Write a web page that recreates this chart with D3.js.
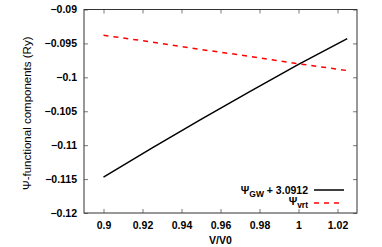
<!DOCTYPE html>
<html>
<head>
<meta charset="utf-8">
<script src="https://cdn.jsdelivr.net/npm/d3@7"></script>
<style>
  body { margin: 0; background: #fff; }
  text { font-family: "Liberation Sans", Arial, sans-serif; }
</style>
</head>
<body>
<div id="chart"></div>
<script>
const volume = [0.9, 0.925, 0.95, 0.975, 1.0, 1.025];
const psiGW = [-0.1147, -0.1104, -0.1062, -0.1021, -0.0981, -0.0943];
const psiVrt = [-0.0938, -0.0948, -0.0959, -0.0969, -0.0980, -0.0990];
const xTicks = [0.9, 0.92, 0.94, 0.96, 0.98, 1, 1.02];
const yTicks = [-0.12, -0.115, -0.11, -0.105, -0.1, -0.095, -0.09];

const width = 382;
const height = 247;
const plotLeft = 84, plotRight = 357, plotTop = 9.5, plotBottom = 213;

const svg = d3.select('#chart')
  .append('svg')
  .attr('width', width)
  .attr('height', height);

const x = d3.scaleLinear().domain([0.89, 1.03]).range([plotLeft, plotRight]);
const y = d3.scaleLinear().domain([-0.12, -0.09]).range([plotBottom, plotTop]);

// axes, ticks pointing inward
const tickLen = 4;
svg.append('g')
  .attr('transform', `translate(0,${plotBottom})`)
  .call(d3.axisBottom(x).tickValues(xTicks).tickSize(-tickLen).tickPadding(9).tickFormat(d3.format('')))
  .call(g => g.select('.domain').remove());
svg.append('g')
  .attr('transform', `translate(0,${plotTop})`)
  .call(d3.axisTop(x).tickValues(xTicks).tickSize(-tickLen).tickFormat(''))
  .call(g => g.select('.domain').remove());
svg.append('g')
  .attr('transform', `translate(${plotLeft},0)`)
  .call(d3.axisLeft(y).tickValues(yTicks).tickSize(-tickLen).tickPadding(7).tickFormat(d3.format('')))
  .call(g => g.select('.domain').remove());
svg.append('g')
  .attr('transform', `translate(${plotRight},0)`)
  .call(d3.axisRight(y).tickValues(yTicks).tickSize(-tickLen).tickFormat(''))
  .call(g => g.select('.domain').remove());

svg.selectAll('.tick line').attr('stroke', '#555').attr('stroke-width', 0.8);
svg.selectAll('.tick text')
  .attr('font-size', 10.5)
  .attr('font-weight', 'bold')
  .attr('fill', '#000');

svg.append('rect')
  .attr('x', plotLeft).attr('y', plotTop)
  .attr('width', plotRight - plotLeft).attr('height', plotBottom - plotTop)
  .attr('fill', 'none').attr('stroke', '#333').attr('stroke-width', 1);

// lines
const line = d3.line().x((d, i) => x(volume[i])).y(d => y(d));
svg.append('path')
  .attr('d', line(psiGW))
  .attr('fill', 'none').attr('stroke', '#000').attr('stroke-width', 1.5);
svg.append('path')
  .attr('d', line(psiVrt))
  .attr('fill', 'none').attr('stroke', '#f00').attr('stroke-width', 1.5)
  .attr('stroke-dasharray', '5,5');

// legend
const legend = svg.append('g').attr('font-size', 10.5).attr('font-weight', 'bold');
const t1 = legend.append('text').attr('x', 308).attr('y', 194).attr('text-anchor', 'end');
t1.append('tspan').text('Ψ');
t1.append('tspan').attr('font-size', 8.5).attr('dy', 3).text('GW');
t1.append('tspan').attr('dy', -3).text(' + 3.0912');
legend.append('line').attr('x1', 314).attr('x2', 344).attr('y1', 190).attr('y2', 190)
  .attr('stroke', '#000').attr('stroke-width', 1.5);
const t2 = legend.append('text').attr('x', 308).attr('y', 205).attr('text-anchor', 'end');
t2.append('tspan').text('Ψ');
t2.append('tspan').attr('font-size', 8.5).attr('dy', 3).text('vrt');
legend.append('line').attr('x1', 314).attr('x2', 344).attr('y1', 203).attr('y2', 203)
  .attr('stroke', '#f00').attr('stroke-width', 1.5).attr('stroke-dasharray', '5,5');

// axis titles
svg.append('text')
  .attr('x', (plotLeft + plotRight) / 2).attr('y', 244)
  .attr('text-anchor', 'middle')
  .attr('font-size', 10.5).attr('font-weight', 'bold')
  .text('V/V0');
svg.append('text')
  .attr('transform', `translate(31,${(plotTop + plotBottom) / 2 + 2}) rotate(-90)`)
  .attr('text-anchor', 'middle')
  .attr('font-size', 11.5)
  .text('Ψ-functional components (Ry)');
</script>
</body>
</html>
